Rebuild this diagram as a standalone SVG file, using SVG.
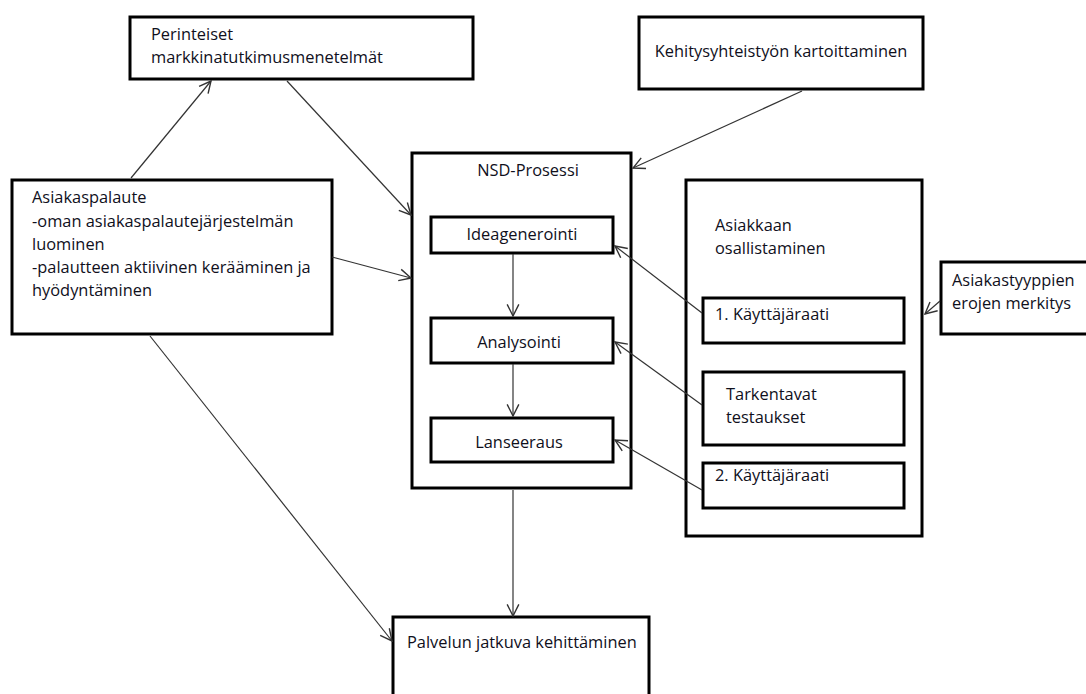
<svg xmlns="http://www.w3.org/2000/svg" width="1086" height="694" viewBox="0 0 1086 694">
<style>
.box{fill:#fff;stroke:#000;stroke-width:3}
.t{font-family:"Open Sans","Liberation Sans",sans-serif;font-size:16.4px;fill:#10101c}
.c{text-anchor:middle}
.ln{stroke:#333;stroke-width:1.2;fill:none;marker-end:url(#ah)}
</style>
<defs>
<marker id="ah" markerUnits="userSpaceOnUse" markerWidth="14" markerHeight="14" viewBox="0 0 12 12" refX="11" refY="6" orient="auto">
<path d="M1,1 L11,6 L1,11" fill="none" stroke="#333" stroke-width="1.2"/>
</marker>
</defs>
<rect width="1086" height="694" fill="#fff"/>
<g id="perinteiset">
<rect class="box" x="130" y="17" width="343" height="62"/>
<text class="t" x="151" y="40">Perinteiset</text>
<text class="t" x="151" y="63">markkinatutkimusmenetelmät</text>
</g>
<g id="kehitys">
<rect class="box" x="639" y="17" width="284" height="72"/>
<text class="t c" x="781" y="57">Kehitysyhteistyön kartoittaminen</text>
</g>
<g id="asiakaspalaute">
<rect class="box" x="12" y="180" width="320" height="154"/>
<text class="t" x="32" y="203">Asiakaspalaute</text>
<text class="t" x="32" y="227">-oman asiakaspalautejärjestelmän</text>
<text class="t" x="32" y="250">luominen</text>
<text class="t" x="32" y="273">-palautteen aktiivinen kerääminen ja</text>
<text class="t" x="32" y="296">hyödyntäminen</text>
</g>
<g id="nsd">
<rect class="box" x="412" y="153" width="219" height="335"/>
<text class="t c" x="528" y="176">NSD-Prosessi</text>
</g>
<g id="ideagenerointi">
<rect class="box" x="431" y="217" width="182" height="36"/>
<text class="t c" x="522" y="240">Ideagenerointi</text>
</g>
<g id="analysointi">
<rect class="box" x="431" y="318" width="182" height="45"/>
<text class="t c" x="519" y="348">Analysointi</text>
</g>
<g id="lanseeraus">
<rect class="box" x="431" y="418" width="182" height="44"/>
<text class="t c" x="519" y="448">Lanseeraus</text>
</g>
<g id="osallistaminen">
<rect class="box" x="686" y="180" width="236" height="356"/>
<text class="t" x="715" y="231">Asiakkaan</text>
<text class="t" x="715" y="254">osallistaminen</text>
</g>
<g id="kayttajaraati1">
<rect class="box" x="703" y="298" width="201" height="45"/>
<text class="t" x="715" y="320">1. Käyttäjäraati</text>
</g>
<g id="tarkentavat">
<rect class="box" x="703" y="372" width="201" height="73"/>
<text class="t" x="726" y="400">Tarkentavat</text>
<text class="t" x="726" y="423">testaukset</text>
</g>
<g id="kayttajaraati2">
<rect class="box" x="703" y="463" width="201" height="45"/>
<text class="t" x="715" y="481">2. Käyttäjäraati</text>
</g>
<g id="asiakastyyppien">
<rect class="box" x="941" y="262" width="150" height="72"/>
<text class="t" x="952" y="286">Asiakastyyppien</text>
<text class="t" x="952" y="309">erojen merkitys</text>
</g>
<g id="palvelun">
<rect class="box" x="393" y="617" width="256" height="90"/>
<text class="t" x="407" y="648">Palvelun jatkuva kehittäminen</text>
</g>
<g id="connectors">
<line class="ln" x1="131" y1="178" x2="211" y2="81"/>
<line class="ln" x1="287" y1="81" x2="411" y2="215"/>
<line class="ln" x1="332" y1="257" x2="411" y2="278"/>
<line class="ln" x1="802" y1="91" x2="633" y2="168"/>
<line class="ln" x1="940" y1="301" x2="925" y2="314"/>
<line class="ln" x1="702" y1="313" x2="615" y2="246"/>
<line class="ln" x1="702" y1="405" x2="615" y2="342"/>
<line class="ln" x1="702" y1="490" x2="615" y2="440"/>
<line class="ln" x1="513" y1="254" x2="513" y2="316"/>
<line class="ln" x1="513" y1="364" x2="513" y2="416"/>
<line class="ln" x1="513" y1="490" x2="513" y2="616"/>
<line class="ln" x1="150" y1="336" x2="392" y2="641"/>
</g>
</svg>
